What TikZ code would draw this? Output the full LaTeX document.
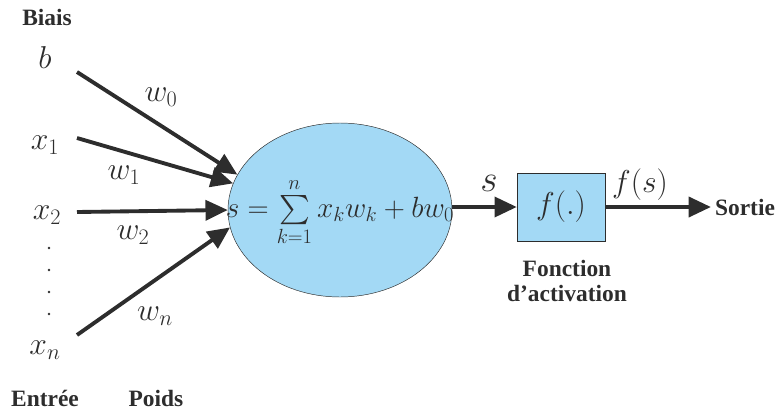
\RequirePackage{fix-cm}
\documentclass[tikz,border=0pt]{standalone}
\usepackage{amsmath}
\usepackage{fontspec}
\newfontfamily\labfont{Liberation Serif}[BoldFont={Liberation Serif Bold}]
\usetikzlibrary{shapes.geometric,arrows.meta}
\definecolor{cellblue}{RGB}{163,217,245}
\definecolor{ink}{RGB}{45,45,45}
\tikzset{
  lab/.style={font=\labfont\bfseries\fontsize{20}{22}\selectfont,text=ink},
  mth/.style={font=\fontsize{27}{29}\selectfont,text=ink},
  wire/.style={line width=3.3pt,draw=ink,-{Triangle[length=19pt,width=17pt]}}
}
\begin{document}
\begin{tikzpicture}[x=0.03cm,y=-0.03cm]
\useasboundingbox (0,0) rectangle (779,412);
% entrees
\node[lab] (biais) at (47,17) {Biais};
\node[mth] (b) at (45,58) {$b$};
\node[mth] (x1) at (45,145) {$x_1$};
\node[mth] (x2) at (47,215) {$x_2$};
\node[mth] (xn) at (45,350) {$x_n$};
\foreach \y in {248,270,292,314}{\fill[ink] (49,\y) circle (1.3);}
\node[lab] (entree) at (45,398) {Entrée};
\node[lab] (poids) at (156,398) {Poids};
% neurone
\node[ellipse,draw=ink,fill=cellblue,minimum width=224*0.03cm,minimum height=174*0.03cm,inner sep=0pt] (cell) at (340,210) {};
\node[mth,font=\fontsize{25}{27}\selectfont,inner sep=0pt] (somme) at (340,212) {$s=\sum\limits_{k=1}^{n}x_kw_k+bw_0$};
\coordinate (sb) at (77,72);\coordinate (s1) at (77,138);\coordinate (s2) at (77,212);\coordinate (sn) at (77,335);
\draw[wire] (sb)--(cell.161);\draw[wire] (s1)--(cell.166);
\draw[wire] (s2)--(cell.180);\draw[wire] (sn)--(cell.189);
\node[mth] (w0) at (161,97) {$w_0$};
\node[mth] (w1) at (124,175) {$w_1$};
\node[mth] (w2) at (133,235) {$w_2$};
\node[mth] (wn) at (155,316) {$w_n$};
% activation
\node[draw=ink,fill=cellblue,minimum width=88*0.03cm,minimum height=68*0.03cm,mth] (act) at (561,207) {$f(.)$};
\draw[wire] (cell.east |- act.west)--(act.west);
\node[mth,font=\fontsize{32}{34}\selectfont] (s) at (489,183) {$s$};
\node[lab] (sortie) at (745,207) {Sortie};
\draw[wire] (act.east)--(sortie.west);
\node[mth] (fs) at (640,185) {$f(s)$};
\node[lab,align=center] (fonct) at (567,281) {Fonction\\d’activation};
\end{tikzpicture}
\end{document}
